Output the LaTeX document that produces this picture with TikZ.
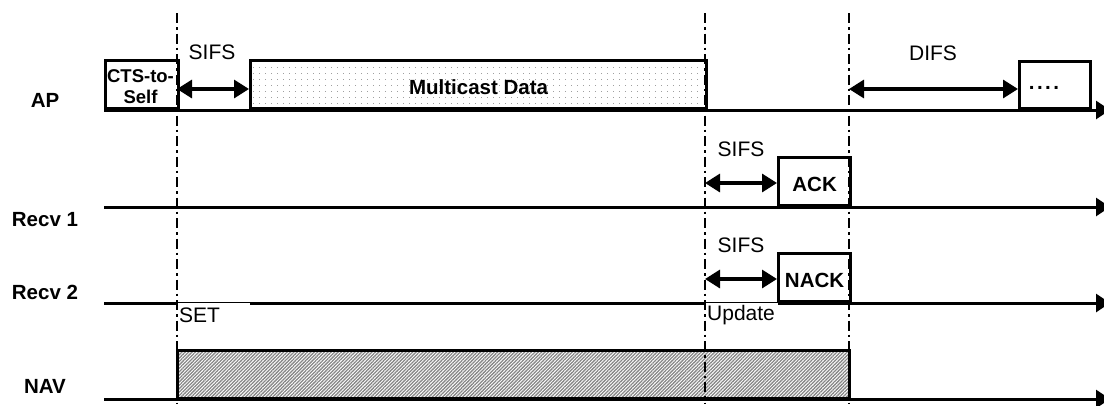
\documentclass[tikz,border=0pt]{standalone}
\usepackage{fontspec}
\setmainfont{Liberation Sans}
\usetikzlibrary{arrows.meta,patterns.meta}
\tikzset{
  lbl/.style={font=\fontsize{20.5}{22}\selectfont\bfseries, inner sep=0pt},
  plain/.style={font=\fontsize{21}{22}\selectfont, inner sep=0pt},
  axis/.style={line width=3pt, -{Triangle[length=14pt,width=18pt]}},
  frame/.style={draw, line width=3.2pt, inner sep=0pt, fill=white, anchor=south west},
  span/.style={line width=3.2pt, {Triangle[length=15pt,width=18pt]}-{Triangle[length=15pt,width=18pt]}},
  boundary/.style={line width=2pt, dash pattern=on 10pt off 4pt on 2.5pt off 4pt},
  mask/.style={fill=white, anchor=north west, minimum width=72pt, minimum height=24pt,
               text width=70pt, align=left, inner xsep=1pt, inner ysep=0pt,
               font=\fontsize{21}{22}\selectfont},
}
\begin{document}
\begin{tikzpicture}[x=1pt,y=-1pt]
\useasboundingbox (0,0) rectangle (1104,405);

% station labels
\node[lbl] (ap)  at (45,100) {AP};
\node[lbl] (r1)  at (45,220) {Recv 1};
\node[lbl] (r2)  at (45,292) {Recv 2};
\node[lbl] (nav) at (45,386) {NAV};

% time axes
\coordinate (apS) at (104,110);  \coordinate (apE) at (1110,110);
\coordinate (r1S) at (104,207);  \coordinate (r1E) at (1110,207);
\coordinate (r2S) at (104,303);  \coordinate (r2E) at (1110,303);
\coordinate (nvS) at (104,399);  \coordinate (nvE) at (1110,399);
\draw[axis] (apS) -- (apE);
\draw[axis] (r1S) -- (r1E);
\draw[axis] (r2S) -- (r2E);
\draw[axis] (nvS) -- (nvE);

% frames on the AP axis
\node[frame, minimum width=73pt, minimum height=48pt] (cts) at (104,110) {};
\node[font=\fontsize{18.5}{21}\selectfont\bfseries, align=center, inner sep=0pt]
  (ctstxt) at (140.5,87) {CTS-to-\\Self};
\node[frame, minimum width=456pt, minimum height=48pt] (data) at (249,110) {};
\foreach \i in {0,...,74}
  \foreach \j in {0,...,6}
    \fill[gray!75] ({253+6*\i},{67+6*\j}) rectangle ++(1,1);
\node[lbl] (datatxt) at ([yshift=-3pt]data.center) {Multicast Data};
\node[frame, minimum width=71pt, minimum height=47pt] (next) at (1018,110) {};
\node[lbl] (nexttxt) at (1044,88) {.\hspace{2.5pt}.\hspace{2.5pt}.\hspace{2.5pt}.};

% responses
\node[frame, minimum width=72pt, minimum height=48pt] (ack) at (777,207) {};
\node[lbl] (acktxt) at ([yshift=-3pt]ack.center) {ACK};
\node[frame, minimum width=72pt, minimum height=48pt] (nack) at (777,303) {};
\node[lbl] (nacktxt) at ([yshift=-3pt]nack.center) {NACK};

% NAV busy period
\node[frame, minimum width=672pt, minimum height=48pt,
      pattern={Lines[angle=45,distance=2.4pt,line width=1.3pt]}, pattern color=gray!95]
  (navbox) at (177,399) {};

% NAV set / update marks
\node[mask] (set) at (178,303.2) {SET};
\node[mask] (upd) at (706,303.2) {Update};

% slot boundaries
\coordinate (v1t) at (177,13);  \coordinate (v1b) at (177,403);
\coordinate (v2t) at (705,13);  \coordinate (v2b) at (705,403);
\coordinate (v3t) at (849,13);  \coordinate (v3b) at (849,403);
\draw[boundary] (v1t) -- (v1b);
\draw[boundary] (v2t) -- (v2b);
\draw[boundary, line width=2.6pt] (v3t) -- (v3b);

% interframe spaces
\coordinate (lvA) at (0,89);
\coordinate (lvB) at (0,183);
\coordinate (lvC) at (0,279);
\draw[span] (v1t |- lvA) -- (data.west |- lvA);
\draw[span] (v3t |- lvA) -- (next.west |- lvA);
\draw[span] (v2t |- lvB) -- (ack.west |- lvB);
\draw[span] (v2t |- lvC) -- (nack.west |- lvC);
\node[plain] (sifs1) at (212,52) {SIFS};
\node[plain] (difs)  at (933,53) {DIFS};
\node[plain] (sifs2) at (741,149) {SIFS};
\node[plain] (sifs3) at (741,245) {SIFS};
\end{tikzpicture}
\end{document}
